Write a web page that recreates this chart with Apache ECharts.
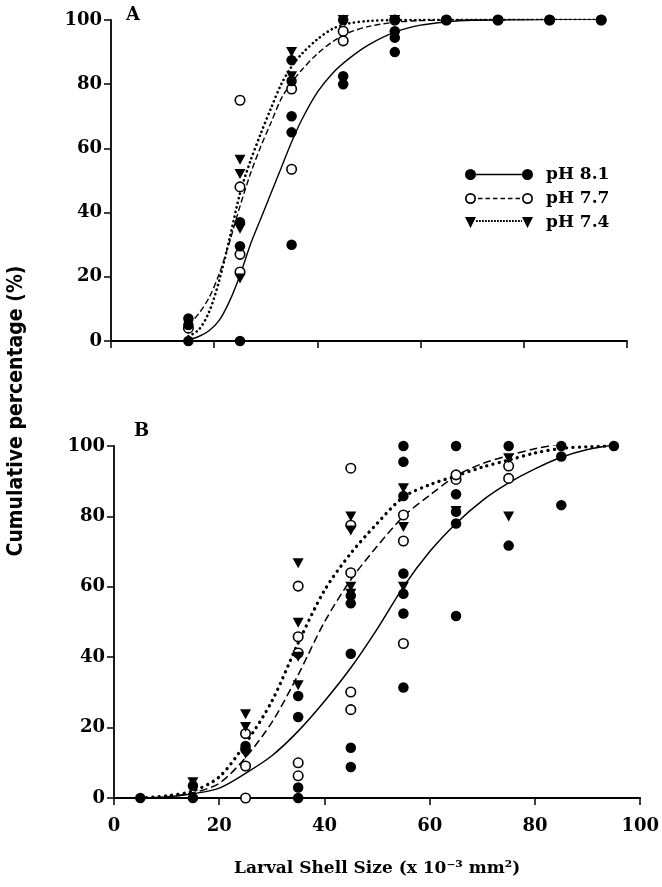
<!DOCTYPE html>
<html><head><meta charset="utf-8">
<script src="https://cdn.jsdelivr.net/npm/echarts@6/dist/echarts.min.js"></script>
<style>html,body{margin:0;padding:0;background:#fff}#c{width:662px;height:887px}</style>
</head><body><div id="c"></div>
<script>
// ---- tick values ----
const xTicks = [0, 20, 40, 60, 80, 100];
const yTicks = [0, 20, 40, 60, 80, 100];
const seriesNames = ['pH 8.1', 'pH 7.7', 'pH 7.4'];
const xTitle = 'Larval Shell Size (x 10\u207B\u00B3 mm\u00B2)';
const yTitle = 'Cumulative percentage (%)';

// ---- Panel A observed points [size, cumulative %] ----
const A_pH81_pts = [[15,0],[15,5],[15,7],[25,0],[25,29.5],[25,37],[35,30],[35,65],[35,70],[35,81],[35,87.5],
  [45,80],[45,82.5],[45,100],[55,90],[55,94.5],[55,96.5],[55,100],[65,100],[75,100],[85,100],[95,100]];
const A_pH77_pts = [[15,4],[25,21.5],[25,27],[25,48],[25,75],[35,53.5],[35,78.5],[45,93.5],[45,96.5],
  [55,100],[65,100],[75,100],[85,100],[95,100]];
const A_pH74_pts = [[25,19.5],[25,35],[25,52],[25,56.5],[35,82.5],[35,90],[45,100],[55,100]];

// ---- Panel A fitted curves ----
const A_pH81_fit = [[15,0.4],[17,1.4],[19,3.2],[21,6.5],[23,12.5],[25,20.5],[27,30],[29,38],[31,46],[33,54],[35,62],
  [37,69],[40,77.5],[43,83.5],[46,87.8],[50,92.3],[55,96.2],[60,98.4],[65,99.4],[70,99.9],[80,100.1],[95,100.3]];
const A_pH77_fit = [[15,5],[17,8.5],[19,13.5],[21,21],[23,31],[25,42],[27,52],[29,60.5],[31,68],[33,75.5],[35,80.5],
  [37,84.5],[40,89.5],[43,93.3],[46,96],[50,98],[55,99.3],[60,99.8],[70,100.1],[80,100.2],[95,100.3]];
const A_pH74_fit = [[15,1.5],[17,3.5],[19,9],[21,19],[23,32],[25,46],[27,56],[29,64.5],[31,72.5],[33,80],[35,85.5],
  [37,89.5],[40,94],[43,97.3],[46,98.9],[50,99.7],[55,100],[60,100.1],[70,100.2],[80,100.3],[95,100.3]];

// ---- Panel B observed points ----
const B_pH81_pts = [[5,0],[15,0],[15,3.5],[25,13.8],[25,14.8],[35,0],[35,3],[35,23],[35,29],
  [45,8.8],[45,14.3],[45,41],[45,55.3],[45,57.5],[55,31.4],[55,52.4],[55,58],[55,63.8],[55,85.8],[55,95.5],[55,100],
  [65,51.7],[65,78],[65,81.3],[65,86.3],[65,100],[75,71.7],[75,100],[85,83.2],[85,97],[85,100],[95,100]];
const B_pH77_pts = [[25,0],[25,9.1],[25,18.3],[35,6.3],[35,10],[35,41.2],[35,45.8],[35,60.2],
  [45,25.1],[45,30.1],[45,64],[45,77.5],[45,93.7],[55,43.9],[55,73],[55,80.4],[65,90.5],[65,91.8],[75,90.8],[75,94.3]];
const B_pH74_pts = [[15,4.5],[25,12.6],[25,20.2],[25,23.8],[35,32],[35,40.1],[35,49.8],[35,66.7],
  [45,58],[45,60],[45,76],[45,80],[55,60],[55,77],[55,88],[65,81.5],[75,80],[75,96.5]];

// ---- Panel B fitted curves ----
const B_pH81_fit = [[5,0],[10,0.3],[15,1.2],[20,2.8],[25,7],[30,12],[35,19],[40,27.5],[45,37],[50,48],[55,60],[60,70],
  [65,78],[70,84.5],[75,89.5],[80,93.5],[85,96.8],[90,99],[95,100.3]];
const B_pH77_fit = [[5,0],[10,0.3],[15,1.5],[20,4.2],[25,11.5],[30,21.5],[35,35],[40,50],[45,62],[50,71.5],[55,80],
  [60,86],[65,91.5],[70,95],[75,97.3],[80,99.2],[85,100.6],[90,101.2],[95,101.5]];
const B_pH74_fit = [[5,0],[10,0.6],[15,2],[20,6],[25,15.5],[30,27.5],[35,44],[40,59],[45,69.5],[50,78],[55,85.5],
  [60,89],[65,91.5],[70,94],[75,96],[80,98],[85,99.3],[90,99.8],[95,100]];

// ---------------- styling ----------------
const FONT = '"DejaVu Serif", "Liberation Serif", serif';
const tickFont = {fontFamily: FONT, fontWeight: 'bold', fontSize: 18, color: '#000'};

function dashPath(x0, x1, dash, gap, y, h) {
  let s = '';
  for (let x = x0; x < x1 - 0.01; x += dash + gap) {
    const w = Math.min(dash, x1 - x);
    s += 'M' + x + ',' + (y - h / 2) + 'h' + w + 'v' + h + 'h' + (-w) + 'Z ';
  }
  return s;
}
const fullCircL = 'M0,6a5.5,5.5 0 1,0 11,0a5.5,5.5 0 1,0 -11,0Z ';
const fullCircR = 'M57,6a5.5,5.5 0 1,0 11,0a5.5,5.5 0 1,0 -11,0Z ';
const ringL = 'M0,6a5.5,5.5 0 1,1 11,0a5.5,5.5 0 1,1 -11,0Z M1.7,6a3.8,3.8 0 1,0 7.6,0a3.8,3.8 0 1,0 -7.6,0Z ';
const ringR = 'M57,6a5.5,5.5 0 1,1 11,0a5.5,5.5 0 1,1 -11,0Z M58.7,6a3.8,3.8 0 1,0 7.6,0a3.8,3.8 0 1,0 -7.6,0Z ';
const icons = [
  'path://' + fullCircL + fullCircR + 'M11,5.3h46v1.4h-46Z',
  'path://' + ringL + ringR + dashPath(13, 56, 4.5, 3, 6, 1.4),
  'path://M0,0.5h11l-5.5,11Z M57,0.5h11l-5.5,11Z ' + dashPath(11, 57, 1.8, 1.2, 4.5, 1.8)
];

const axisLineStyle = {color: '#000', width: 1.8};
function xAx(grid, showLabel) {
  const a = {
    gridIndex: grid, type: 'value', min: xTicks[0], max: xTicks[xTicks.length - 1], interval: xTicks[1] - xTicks[0],
    axisLine: {show: true, onZero: false, lineStyle: axisLineStyle},
    axisTick: {show: true, inside: false, length: 7, lineStyle: {color: '#000', width: 1.5}},
    axisLabel: Object.assign({show: showLabel, margin: 19}, tickFont),
    splitLine: {show: false}
  };
  if (showLabel) {
    a.name = xTitle; a.nameLocation = 'middle'; a.nameGap = 62;
    a.nameTextStyle = {fontFamily: FONT, fontWeight: 'bold', fontSize: 17, color: '#000'};
  }
  return a;
}
function yAx(grid) {
  return {
    gridIndex: grid, type: 'value', min: yTicks[0], max: yTicks[yTicks.length - 1], interval: yTicks[1] - yTicks[0],
    axisLine: {show: true, onZero: false, lineStyle: axisLineStyle},
    axisTick: {show: true, inside: false, length: 7, lineStyle: {color: '#000', width: 1.5}},
    axisLabel: Object.assign({margin: 9}, tickFont),
    splitLine: {show: false}
  };
}

const lineStyles = [
  {A: {color: '#000', width: 1.4, type: 'solid'}, B: {color: '#000', width: 1.5, type: 'solid'}},
  {A: {color: '#000', width: 1.4, type: [6, 3]}, B: {color: '#000', width: 1.5, type: [8, 4]}},
  {A: {color: '#000', width: 2.6, type: [0.1, 4.6], cap: 'round'}, B: {color: '#000', width: 3.3, type: [0.1, 6.2], cap: 'round'}}
];
// drawing order: open circles, triangles, then filled circles on top
const markerStyles = [
  {symbol: 'circle', symbolSize: 10.5, symbolRotate: 0, z: 6, itemStyle: {color: '#000', borderWidth: 0, opacity: 1}},
  {symbol: 'circle', symbolSize: 9.5, symbolRotate: 0, z: 4, itemStyle: {color: '#fff', borderColor: '#000', borderWidth: 1.6, opacity: 1}},
  {symbol: 'triangle', symbolSize: [11, 10], symbolRotate: 180, z: 5, itemStyle: {color: '#000', borderWidth: 0, opacity: 1}}
];

const fits = {A: [A_pH81_fit, A_pH77_fit, A_pH74_fit], B: [B_pH81_fit, B_pH77_fit, B_pH74_fit]};
const pts = {A: [A_pH81_pts, A_pH77_pts, A_pH74_pts], B: [B_pH81_pts, B_pH77_pts, B_pH74_pts]};

const series = [];
['A', 'B'].forEach(function (p, gi) {
  for (let i = 0; i < 3; i++) {
    series.push({
      name: seriesNames[i], type: 'line', xAxisIndex: gi, yAxisIndex: gi,
      data: fits[p][i], smooth: 0.3, showSymbol: false, symbol: 'none',
      color: '#000', lineStyle: lineStyles[i][p], z: 2, silent: true, animation: false
    });
  }
  for (let i = 0; i < 3; i++) {
    const m = markerStyles[i];
    series.push({
      name: seriesNames[i] + ' pts', type: 'scatter', xAxisIndex: gi, yAxisIndex: gi,
      data: pts[p][i], symbol: m.symbol, symbolSize: m.symbolSize, symbolRotate: m.symbolRotate,
      itemStyle: m.itemStyle, z: m.z, silent: true, animation: false
    });
  }
});

const chart = echarts.init(document.getElementById('c'), null, {renderer: 'canvas'});
chart.setOption({
  backgroundColor: '#fff',
  animation: false,
  title: [
    {text: 'A', left: 126, top: 6, padding: 0, textStyle: {fontFamily: FONT, fontWeight: 'bold', fontSize: 18, color: '#000'}},
    {text: 'B', left: 134, top: 422, padding: 0, textStyle: {fontFamily: FONT, fontWeight: 'bold', fontSize: 18, color: '#000'}}
  ],
  grid: [
    {left: 111, right: 35, top: 20, height: 321, containLabel: false},
    {left: 114, right: 21, top: 446, height: 352, containLabel: false}
  ],
  xAxis: [xAx(0, false), xAx(1, true)],
  yAxis: [yAx(0), yAx(1)],
  legend: {
    orient: 'vertical', left: 460, top: 161, itemGap: 7, itemWidth: 68, itemHeight: 11,
    selectedMode: false,
    data: seriesNames.map(function (n, i) { return {name: n, icon: icons[i]}; }),
    itemStyle: {color: '#000', borderWidth: 0},
    textStyle: {fontFamily: FONT, fontWeight: 'bold', fontSize: 17, color: '#000', padding: [0, 0, 0, 8]}
  },
  graphic: [{
    type: 'text', x: 17, y: 411, rotation: Math.PI / 2,
    style: {text: yTitle, fill: '#000', font: 'bold 21px "Liberation Sans Narrow", "DejaVu Sans Condensed", "Liberation Sans", sans-serif',
      align: 'center', verticalAlign: 'middle'}
  }],
  series: series
});
</script>
</body></html>
